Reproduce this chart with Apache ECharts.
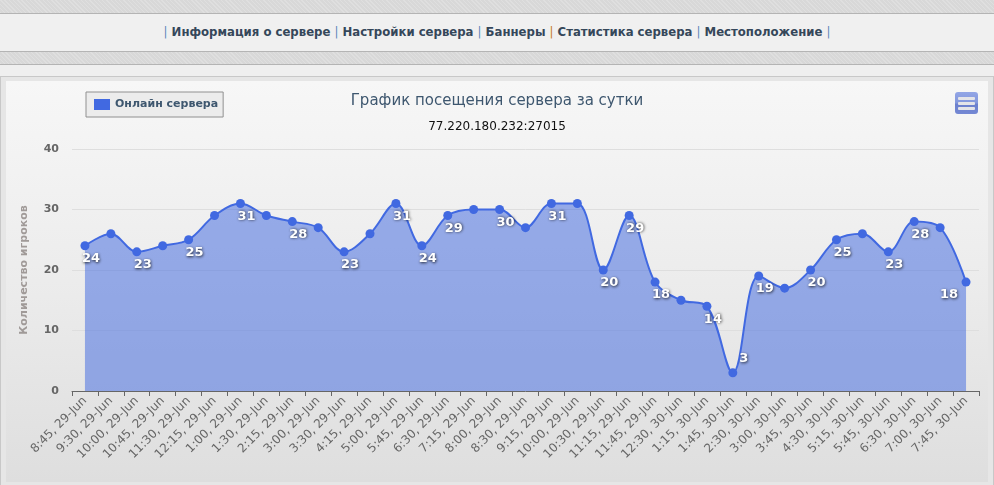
<!DOCTYPE html>
<html>
<head>
<meta charset="utf-8">
<script src="https://cdn.jsdelivr.net/npm/echarts@6/dist/echarts.min.js"></script>
<style>
  html, body { margin:0; padding:0; width:994px; height:485px; overflow:hidden; background:#efefef; }
  .tex { position:absolute; left:0; width:994px; background:#d8d8d8;
    background-image: repeating-linear-gradient(45deg, rgba(255,255,255,0.18) 0 1px, rgba(0,0,0,0) 1px 3px); }
  .hl { position:absolute; left:0; width:994px; height:1px; background:#b4b4b4; }
  .nav { position:absolute; left:0; top:14px; width:994px; height:37px; background:#f0f0f0;
    text-align:center; line-height:35px; font-family:"Liberation Sans Narrow","DejaVu Sans Condensed",sans-serif;
    font-weight:bold; font-size:13px; color:#35475a; letter-spacing:0px; }
  .sep { color:#5a86b8; font-weight:normal; }
  .act { color:#c67a28; }
  .frame { position:absolute; left:0; top:76px; width:992px; height:409px; background:#e6e6e6;
    border-left:1px solid #c8c8c8; border-right:1px solid #c8c8c8; border-top:1px solid #c8c8c8; }
  .cbg { position:absolute; left:6px; top:81px; width:982px; height:401px;
    background:linear-gradient(to bottom, #f7f7f7 0%, #ececec 50%, #dedede 100%); }
  #chart { position:absolute; left:0; top:0; width:994px; height:485px; }
</style>
</head>
<body>
<div class="tex" style="top:0;height:13px"></div>
<div class="hl" style="top:13px"></div>
<div class="nav"><span class="sep">|</span> Информация о сервере <span class="sep">|</span> Настройки сервера <span class="sep">|</span> Баннеры <span class="sep act">|</span> Статистика сервера <span class="sep">|</span> Местоположение <span class="sep">|</span></div>
<div class="hl" style="top:51px"></div>
<div class="tex" style="top:52px;height:12px"></div>
<div class="hl" style="top:64px"></div>
<div class="frame"></div>
<div class="cbg"></div>
<div id="chart"></div>
<script>
const categories = ['8:45, 29-Jun','9:30, 29-Jun','10:00, 29-Jun','10:45, 29-Jun','11:30, 29-Jun','12:15, 29-Jun','1:00, 29-Jun','1:30, 29-Jun','2:15, 29-Jun','3:00, 29-Jun','3:30, 29-Jun','4:15, 29-Jun','5:00, 29-Jun','5:45, 29-Jun','6:30, 29-Jun','7:15, 29-Jun','8:00, 29-Jun','8:30, 29-Jun','9:15, 29-Jun','10:00, 29-Jun','10:30, 29-Jun','11:15, 29-Jun','11:45, 29-Jun','12:30, 30-Jun','1:15, 30-Jun','1:45, 30-Jun','2:30, 30-Jun','3:00, 30-Jun','3:45, 30-Jun','4:30, 30-Jun','5:15, 30-Jun','5:45, 30-Jun','6:30, 30-Jun','7:00, 30-Jun','7:45, 30-Jun'];
const online = [24,26,23,24,25,29,31,29,28,27,23,26,31,24,29,30,30,27,31,31,20,29,18,15,14,3,19,17,20,25,26,23,28,27,18];
const labelShown = [1,0,1,0,1,0,1,0,1,0,1,0,1,1,1,0,1,0,1,0,1,1,1,0,1,1,1,0,1,1,0,1,1,0,1];
const seriesName = 'Онлайн сервера';
const yTicks = [0, 40, 10];

const chart = echarts.init(document.getElementById('chart'), null, {renderer:'canvas'});
const last = online.length - 1;
const seriesData = online.map((v, i) => {
  let off = [6, 13];
  if (v < 6) off = [11, -14];
  if (i === last) off = [-17, 13];
  return { value: v, label: { show: !!labelShown[i], position: 'inside', offset: off } };
});

chart.setOption({
  backgroundColor: 'transparent',
  animation: false,
  title: {
    text: 'График посещения сервера за сутки',
    subtext: '77.220.180.232:27015',
    left: 'center', top: 89, itemGap: 12,
    textStyle: { fontFamily: 'DejaVu Sans', fontSize: 15, fontWeight: 'normal', color: '#3E576F' },
    subtextStyle: { fontFamily: 'DejaVu Sans', fontSize: 12, color: '#111' }
  },
  legend: {
    left: 86, top: 92, padding: [7, 5, 7, 8],
    icon: 'rect', itemWidth: 16, itemHeight: 11, itemGap: 5,
    borderColor: '#909090', borderWidth: 1, backgroundColor: '#ececec',
    selectedMode: false,
    textStyle: { fontFamily: 'DejaVu Sans', fontWeight: 'bold', fontSize: 11, color: '#3E576F' },
    data: [seriesName]
  },
  grid: { left: 72, right: 15, top: 149, bottom: 94, containLabel: false },
  xAxis: {
    type: 'category', data: categories, boundaryGap: true,
    axisLine: { lineStyle: { color: '#666', width: 1 } },
    axisTick: { show: true, interval: 0, length: 5, lineStyle: { color: '#666' } },
    axisLabel: { interval: 0, rotate: 45, margin: 8, fontFamily: 'DejaVu Sans', fontSize: 12, color: '#666' },
    splitLine: { show: false }
  },
  yAxis: {
    type: 'value', min: yTicks[0], max: yTicks[1], interval: yTicks[2],
    name: 'Количество игроков', nameLocation: 'middle', nameRotate: 90, nameGap: 42,
    nameTextStyle: { fontFamily: 'DejaVu Sans', fontWeight: 'bold', fontSize: 11, color: '#a09a98' },
    axisLine: { show: false }, axisTick: { show: false },
    axisLabel: { margin: 13, fontFamily: 'DejaVu Sans', fontWeight: 'bold', fontSize: 11, color: '#666' },
    splitLine: { lineStyle: { color: '#dedede', width: 1 } }
  },
  series: [{
    name: seriesName, type: 'line', smooth: 0.35,
    data: seriesData,
    symbol: 'circle', symbolSize: 9,
    itemStyle: { color: '#4169E1' },
    lineStyle: { color: '#4169E1', width: 2 },
    areaStyle: { color: '#4169E1', opacity: 0.52 },
    label: {
      fontFamily: 'DejaVu Sans', fontWeight: 'bold', fontSize: 13, color: '#ffffff',
      textShadowColor: 'rgba(0,0,0,0.8)', textShadowBlur: 3, textShadowOffsetX: 0.5, textShadowOffsetY: 0.5,
      formatter: '{c}'
    },
    emphasis: { disabled: true }
  }],
  graphic: [{
    type: 'group', left: 955, top: 92,
    children: [
      { type: 'rect', shape: { x: 0, y: 0, width: 23, height: 22, r: 3 },
        style: { fill: new echarts.graphic.LinearGradient(0, 0, 0, 1, [
          { offset: 0, color: '#93a6e6' }, { offset: 0.5, color: '#8397dc' }, { offset: 0.55, color: '#6c80cd' }, { offset: 1, color: '#7488d4' }]) } },
      { type: 'rect', shape: { x: 3, y: 5, width: 17, height: 3, r: 1 }, style: { fill: '#e4e4e8' } },
      { type: 'rect', shape: { x: 3, y: 10, width: 17, height: 3, r: 1 }, style: { fill: '#e4e4e8' } },
      { type: 'rect', shape: { x: 3, y: 15, width: 17, height: 3, r: 1 }, style: { fill: '#e4e4e8' } }
    ]
  }]
});
</script>
</body>
</html>
